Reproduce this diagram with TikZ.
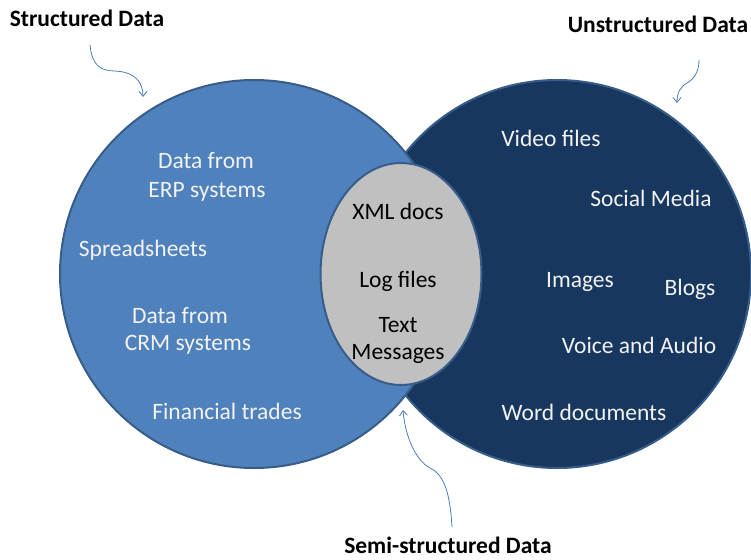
\documentclass[tikz,border=0pt]{standalone}
\usepackage{fontspec}
\setmainfont{Carlito}
\usetikzlibrary{arrows.meta,shapes.geometric}

\definecolor{lightset}{RGB}{79,129,189}
\definecolor{darkset}{RGB}{23,55,94}
\definecolor{setedge}{RGB}{56,93,138}
\definecolor{overlapfill}{RGB}{192,192,192}
\definecolor{itemtext}{RGB}{242,242,242}
\definecolor{pointer}{RGB}{74,126,187}

\begin{document}
\begin{tikzpicture}[x=1pt,y=-1pt,
  setcircle/.style={circle, draw=setedge, line width=2pt, minimum size=388pt, inner sep=0pt},
  overlap/.style={ellipse, draw=setedge, line width=2pt, fill=overlapfill,
                  minimum width=161pt, minimum height=222pt, inner sep=0pt},
  item/.style={text=itemtext, font=\fontsize{23.5}{29}\selectfont, inner sep=0pt, anchor=base},
  semiitem/.style={item, text=black},
  heading/.style={font=\fontsize{23.5}{28}\selectfont\bfseries, inner sep=0pt, anchor=base},
  pointerline/.style={draw=pointer, line width=0.8pt,
                      -{Straight Barb[length=5pt,width=8pt]}}
]
\useasboundingbox (0,0) rectangle (751,559);

% the two sets and their overlap (left set drawn over the right one)
\node[setcircle, fill=darkset]  (unstructured) at (557,274) {};
\node[setcircle, fill=lightset] (structured)   at (254,274) {};
\node[overlap] (semi) at (401,274) {};

% structured items
\node[item] (erp1) at (206,168) {Data from};
\node[item] (erp2) at (207,197) {ERP systems};
\node[item] (sheets) at (143,256) {Spreadsheets};
\node[item] (crm1) at (180,323) {Data from};
\node[item] (crm2) at (188,350) {CRM systems};
\node[item] (trades) at (227,419) {Financial trades};

% semi-structured items
\node[semiitem] (xml) at (398,219) {XML docs};
\node[semiitem] (logs) at (398,287) {Log files};
\node[semiitem] (txt1) at (398,332) {Text};
\node[semiitem] (txt2) at (398,359) {Messages};

% unstructured items
\node[item] (video) at (551,146) {Video files};
\node[item] (social) at (651,206) {Social Media};
\node[item] (images) at (580,287) {Images};
\node[item] (blogs) at (690,295) {Blogs};
\node[item] (voice) at (639,353) {Voice and Audio};
\node[item] (word) at (584,420) {Word documents};

% headings
\node[heading] (hstruct) at (87,27) {Structured Data};
\node[heading] (hunstruct) at (658,33) {Unstructured Data};
\node[heading] (hsemi) at (448,553) {Semi-structured Data};

% pointer ends
\coordinate (ps0) at (90,45);
\coordinate (ps1) at (143,97);
\coordinate (pu0) at (699,60);
\coordinate (pu1) at (677,103);
\coordinate (pm0) at (452,527);
\coordinate (pm1) at (403,410);

\draw[pointerline] (ps0) .. controls (92,65) and (100,71) .. (115,71)
                         .. controls (135,72) and (143,82) .. (ps1);
\draw[pointerline] (pu0) .. controls (699,72) and (694,79) .. (687,83)
                         .. controls (680,87) and (677,93) .. (pu1);
\draw[pointerline] (pm0) .. controls (450,495) and (445,475) .. (430,468)
                         .. controls (415,460) and (405,435) .. (pm1);
\end{tikzpicture}
\end{document}
